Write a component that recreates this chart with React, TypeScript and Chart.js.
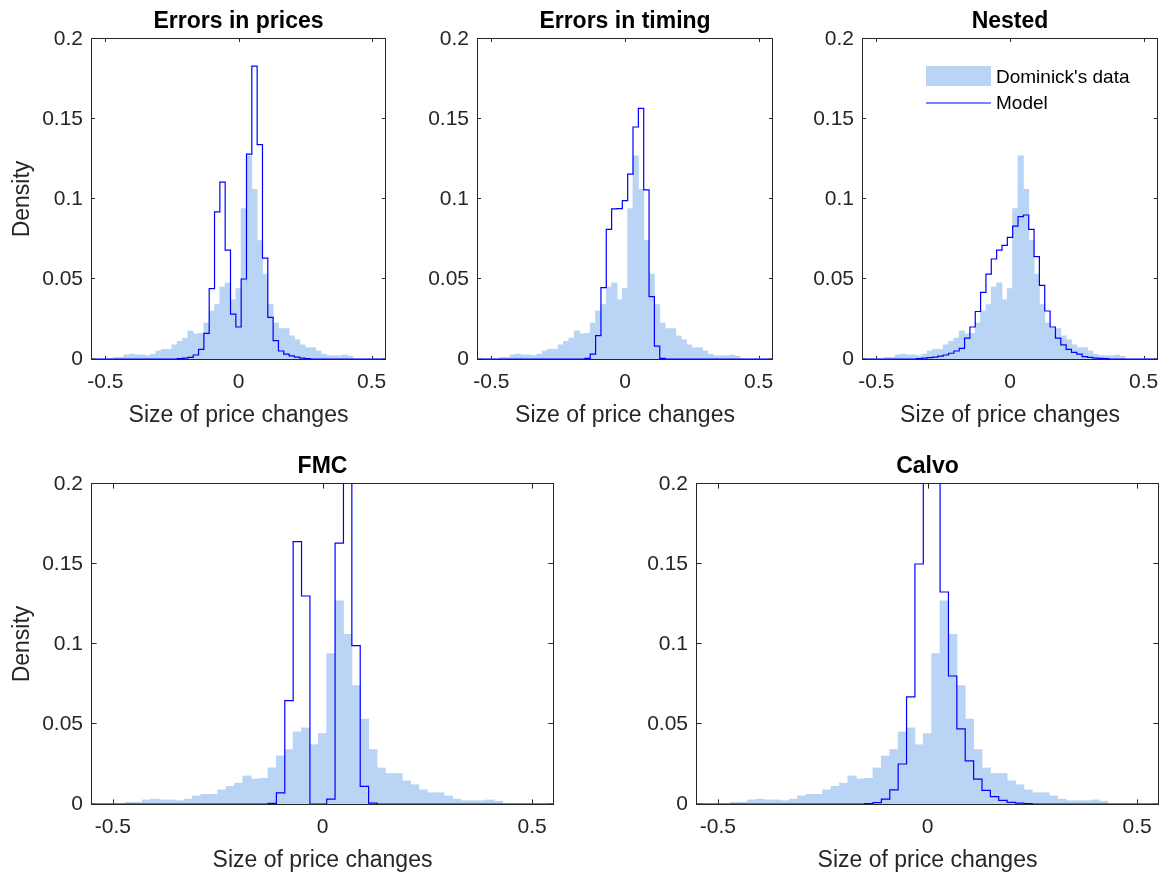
import React, { useEffect, useRef } from 'react';
import { Chart, registerables } from 'chart.js';

Chart.register(...registerables);

// ---------------- data ----------------
const binCenters = [
  -0.54, -0.52, -0.5, -0.48, -0.46, -0.44, -0.42, -0.4, -0.38, -0.36, -0.34, -0.32, -0.3, -0.28,
  -0.26, -0.24, -0.22, -0.2, -0.18, -0.16, -0.14, -0.12, -0.1, -0.08, -0.06, -0.04, -0.02, 0,
  0.02, 0.04, 0.06, 0.08, 0.1, 0.12, 0.14, 0.16, 0.18, 0.2, 0.22, 0.24, 0.26, 0.28, 0.3, 0.32,
  0.34, 0.36, 0.38, 0.4, 0.42, 0.44, 0.46, 0.48, 0.5, 0.52, 0.54,
];

const dominicks = [
  0, 0, 0, 0,
  0.001, 0.001, 0.0025, 0.003, 0.0025, 0.0025, 0.002, 0.003, 0.005, 0.006,
  0.006, 0.0088, 0.011, 0.013, 0.0175, 0.0156, 0.016, 0.0225, 0.03, 0.034,
  0.045, 0.0475, 0.037, 0.044, 0.094, 0.127, 0.106, 0.074, 0.053, 0.034,
  0.0225, 0.019, 0.019, 0.0144, 0.012, 0.0088, 0.007, 0.007, 0.005, 0.003,
  0.002, 0.002, 0.002, 0.0025, 0.0017,
  0, 0, 0, 0, 0, 0,
];

const modelPrices = [
  0, 0, 0, 0, 0, 0, 0, 0, 0, 0, 0, 0, 0, 0, 0, 0,
  0.0003, 0.0006, 0.001, 0.0025, 0.006, 0.016, 0.044, 0.092, 0.1105, 0.068, 0.028, 0.02,
  0.05, 0.128, 0.183, 0.134, 0.063, 0.026, 0.0115, 0.005, 0.003, 0.002, 0.0012, 0.0006, 0.0003,
  0, 0, 0, 0, 0, 0, 0, 0, 0, 0, 0, 0, 0, 0,
];

const modelTiming = [
  0, 0, 0, 0, 0, 0, 0, 0, 0, 0, 0, 0, 0, 0, 0, 0, 0, 0, 0, 0,
  0.0004, 0.003, 0.0146, 0.0446, 0.081, 0.0938, 0.094, 0.099, 0.1155, 0.145, 0.1566, 0.1057,
  0.039, 0.008, 0.0004,
  0, 0, 0, 0, 0, 0, 0, 0, 0, 0, 0, 0, 0, 0, 0, 0, 0, 0, 0, 0,
];

const modelNested = [
  0, 0, 0, 0, 0, 0, 0, 0, 0, 0,
  0.0003, 0.0005, 0.0008, 0.0012, 0.0018, 0.0025, 0.0036, 0.005, 0.0067, 0.013, 0.02, 0.0297,
  0.0416, 0.053, 0.0625, 0.068, 0.071, 0.076, 0.083, 0.089, 0.09, 0.081, 0.064, 0.046, 0.03,
  0.02, 0.013, 0.0088, 0.006, 0.0042, 0.003, 0.0015, 0.001, 0.0006, 0.0004, 0.0002,
  0, 0, 0, 0, 0, 0, 0, 0, 0,
];

const modelFMC = [
  0, 0, 0, 0, 0, 0, 0, 0, 0, 0, 0, 0, 0, 0, 0, 0, 0, 0, 0, 0, 0,
  0.0004, 0.007, 0.0646, 0.164, 0.13, 0, 0, 0.003, 0.163, 0.29, 0.099, 0.011, 0.0006,
  0, 0, 0, 0, 0, 0, 0, 0, 0, 0, 0, 0, 0, 0, 0, 0, 0, 0, 0, 0, 0,
];

const modelCalvo = [
  0, 0, 0, 0, 0, 0, 0, 0, 0, 0, 0, 0, 0, 0, 0, 0, 0, 0, 0, 0,
  0.0003, 0.0008, 0.003, 0.0088, 0.025, 0.067, 0.15, 0.31, 0.27, 0.1325, 0.08, 0.047,
  0.027, 0.0156, 0.0085, 0.0046, 0.0023, 0.001, 0.0005, 0.0002,
  0, 0, 0, 0, 0, 0, 0, 0, 0, 0, 0, 0, 0, 0, 0,
];

const panelTitles = ['Errors in prices', 'Errors in timing', 'Nested', 'FMC', 'Calvo'];
const seriesLabels = ["Dominick's data", 'Model'];
const xTickValues = [-0.5, 0, 0.5];
const xTickLabels = ['-0.5', '0', '0.5'];
const yTickValues = [0, 0.05, 0.1, 0.15, 0.2];
const yTickLabels = ['0', '0.05', '0.1', '0.15', '0.2'];
const xAxisLabel = 'Size of price changes';
const yAxisLabel = 'Density';

// ---------------- styles / layout ----------------
const FONT = "'Liberation Sans', Arial, Helvetica, sans-serif";
const AXIS_COLOR = '#262626';
const BAR_COLOR = 'rgb(185,212,244)';
const LINE_COLOR = 'rgb(0,0,255)';
const CANVAS_H = 438;
const AXIS_W = 92;

const layout = [
  { model: modelPrices, left: 0, top: 0, width: 477, density: true, legend: false, tickLen: 3 },
  { model: modelTiming, left: 386, top: 0, width: 478, density: false, legend: false, tickLen: 3 },
  { model: modelNested, left: 771, top: 0, width: 478, density: false, legend: true, tickLen: 3 },
  { model: modelFMC, left: 0, top: 445, width: 645, density: true, legend: false, tickLen: 4.6 },
  { model: modelCalvo, left: 605, top: 445, width: 645, density: false, legend: false, tickLen: 4.6 },
];

Chart.defaults.font.family = FONT;

const boxPlugin = {
  id: 'matlabBox',
  beforeDatasetsDraw(chart: any, _args: any, opts: any) {
    const { ctx, chartArea: a } = chart;
    const xs = chart.scales.x;
    const ys = chart.scales.y;
    const tl = opts.tickLen || 3;
    ctx.save();
    ctx.strokeStyle = AXIS_COLOR;
    ctx.lineWidth = 1;
    ctx.strokeRect(a.left - 0.5, a.top - 0.5, a.right - a.left + 1, a.bottom - a.top + 1);
    ctx.beginPath();
    for (const v of xTickValues) {
      const px = Math.round(xs.getPixelForValue(v)) + 0.5;
      ctx.moveTo(px, a.bottom);
      ctx.lineTo(px, a.bottom - tl);
      ctx.moveTo(px, a.top);
      ctx.lineTo(px, a.top + tl);
    }
    for (const v of yTickValues) {
      const py = Math.round(ys.getPixelForValue(v)) - 0.5;
      ctx.moveTo(a.left, py);
      ctx.lineTo(a.left + tl, py);
      ctx.moveTo(a.right, py);
      ctx.lineTo(a.right - tl, py);
    }
    ctx.stroke();
    ctx.restore();
  },
};

const legendPlugin = {
  id: 'matlabLegend',
  afterDatasetsDraw(chart: any, _args: any, opts: any) {
    if (!opts.show) return;
    const { ctx, chartArea: a } = chart;
    const barDs = chart.data.datasets[1];
    const lineDs = chart.data.datasets[0];
    ctx.save();
    ctx.fillStyle = barDs.backgroundColor;
    ctx.fillRect(a.left + 63, a.top + 27, 65, 20);
    ctx.strokeStyle = lineDs.borderColor;
    ctx.lineWidth = 1;
    ctx.beginPath();
    ctx.moveTo(a.left + 63, a.top + 64);
    ctx.lineTo(a.left + 128, a.top + 64);
    ctx.stroke();
    ctx.fillStyle = '#000';
    ctx.font = `19px ${FONT}`;
    ctx.textAlign = 'left';
    ctx.textBaseline = 'middle';
    ctx.fillText(barDs.label, a.left + 133, a.top + 38.5);
    ctx.fillText(lineDs.label, a.left + 133, a.top + 65);
    ctx.restore();
  },
};

function buildConfig(idx: number): any {
  const spec = layout[idx];
  return {
    type: 'bar',
    data: {
      datasets: [
        {
          type: 'line',
          label: seriesLabels[1],
          data: binCenters.map((x, i) => ({ x, y: spec.model[i] })),
          borderColor: LINE_COLOR,
          borderWidth: 1.2,
          pointRadius: 0,
          stepped: 'middle',
          fill: false,
          order: 0,
          xAxisID: 'x',
          yAxisID: 'y',
        },
        {
          type: 'bar',
          label: seriesLabels[0],
          data: binCenters.map((x, i) => ({ x, y: dominicks[i] })),
          backgroundColor: BAR_COLOR,
          borderWidth: 0,
          barPercentage: 1,
          categoryPercentage: 1,
          inflateAmount: 0.4,
          grouped: false,
          order: 1,
          xAxisID: 'x',
          yAxisID: 'y',
        },
      ],
    },
    options: {
      responsive: false,
      animation: false,
      devicePixelRatio: 1,
      events: [],
      layout: { padding: 0 },
      plugins: {
        legend: { display: false },
        tooltip: { enabled: false },
        title: {
          display: true,
          text: panelTitles[idx],
          color: '#000',
          font: { size: 23, weight: 'bold', family: FONT },
          padding: { top: 7.7, bottom: 3.7 },
        },
        matlabBox: { tickLen: spec.tickLen },
        matlabLegend: { show: spec.legend },
      },
      scales: {
        x: {
          type: 'linear',
          min: -0.55,
          max: 0.55,
          offset: false,
          grid: { display: false, drawTicks: false, offset: false },
          border: { display: false },
          ticks: {
            color: AXIS_COLOR,
            font: { size: 21 },
            padding: 11,
            maxRotation: 0,
            autoSkip: false,
            callback: (v: number) => {
              const i = xTickValues.findIndex((t) => Math.abs(t - v) < 1e-9);
              return i >= 0 ? xTickLabels[i] : '';
            },
          },
          afterBuildTicks: (s: any) => {
            s.ticks = xTickValues.map((value) => ({ value }));
          },
          afterFit: (s: any) => {
            s.height = CANVAS_H - 359;
          },
          title: {
            display: true,
            text: xAxisLabel,
            color: AXIS_COLOR,
            font: { size: 23 },
            padding: { top: 0, bottom: 9 },
          },
        },
        y: {
          type: 'linear',
          position: 'left',
          min: 0,
          max: 0.2,
          grid: { display: false, drawTicks: false },
          border: { display: false },
          ticks: {
            color: AXIS_COLOR,
            font: { size: 21 },
            padding: 9,
            autoSkip: false,
            callback: (v: number) => {
              const i = yTickValues.findIndex((t) => Math.abs(t - v) < 1e-9);
              return i >= 0 ? yTickLabels[i] : '';
            },
          },
          afterBuildTicks: (s: any) => {
            s.ticks = yTickValues.map((value) => ({ value }));
          },
          afterFit: (s: any) => {
            s.width = AXIS_W;
          },
          title: {
            display: spec.density,
            text: yAxisLabel,
            color: AXIS_COLOR,
            font: { size: 23 },
            padding: { top: 9, bottom: 0 },
          },
        },
        y2: {
          type: 'linear',
          position: 'right',
          display: true,
          grid: { display: false, drawTicks: false },
          border: { display: false },
          ticks: { display: false },
          afterFit: (s: any) => {
            s.width = AXIS_W;
          },
        },
      },
    },
    plugins: [boxPlugin, legendPlugin],
  };
}

function Panel({ idx }: { idx: number }) {
  const ref = useRef<HTMLCanvasElement>(null);
  const spec = layout[idx];
  useEffect(() => {
    const chart = new Chart(ref.current as HTMLCanvasElement, buildConfig(idx));
    return () => chart.destroy();
  }, [idx]);
  return (
    <canvas
      ref={ref}
      width={spec.width}
      height={CANVAS_H}
      style={{
        position: 'absolute',
        left: spec.left,
        top: spec.top,
        width: spec.width,
        height: CANVAS_H,
      }}
    />
  );
}

export default function App() {
  return (
    <div
      style={{
        position: 'absolute',
        left: 0,
        top: 0,
        width: 1167,
        height: 876,
        overflow: 'hidden',
        background: '#fff',
      }}
    >
      {layout.map((_, i) => (
        <Panel key={i} idx={i} />
      ))}
    </div>
  );
}
